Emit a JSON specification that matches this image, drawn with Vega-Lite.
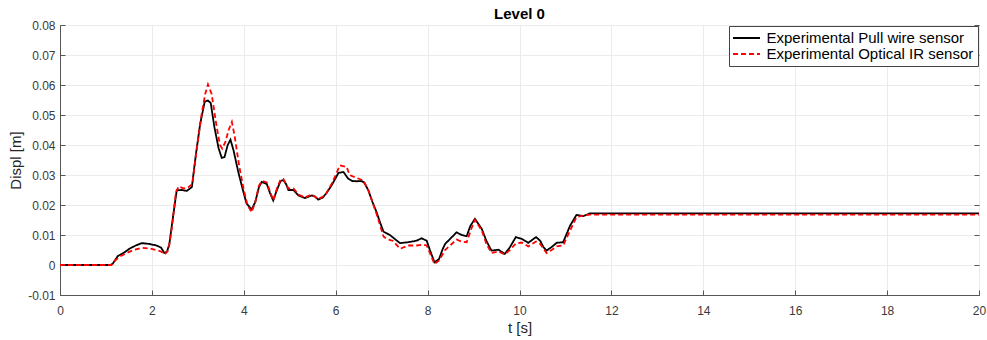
{
  "$schema": "https://vega.github.io/schema/vega-lite/v6.json",
  "autosize": "none",
  "width": 919,
  "height": 270,
  "padding": {"left": 60, "top": 25, "right": 8, "bottom": 45},
  "background": "white",
  "title": {"text": "Level 0", "fontSize": 15, "font": "Liberation Sans", "fontWeight": "bold", "color": "#000000", "baseline": "alphabetic", "offset": 5, "dy": 20, "anchor": "middle"},
  "config": {
    "view": {"stroke": "#555555", "strokeWidth": 1},
    "axis": {"labelFont": "Liberation Sans", "titleFont": "Liberation Sans", "labelColor": "#3a3a3a", "titleColor": "#262626", "titleFontWeight": "normal", "labelFontSize": 12, "titleFontSize": 15, "domainColor": "#555555", "tickColor": "#555555", "gridColor": "#ebebeb", "gridOpacity": 1}
  },
  "data": {"values": [
    {"t": 0, "d": 0, "s": "Experimental Pull wire sensor"},
    {"t": 1.1, "d": 0, "s": "Experimental Pull wire sensor"},
    {"t": 1.15, "d": 0.0005, "s": "Experimental Pull wire sensor"},
    {"t": 1.26, "d": 0.003, "s": "Experimental Pull wire sensor"},
    {"t": 1.4, "d": 0.0042, "s": "Experimental Pull wire sensor"},
    {"t": 1.52, "d": 0.0055, "s": "Experimental Pull wire sensor"},
    {"t": 1.65, "d": 0.0065, "s": "Experimental Pull wire sensor"},
    {"t": 1.78, "d": 0.0073, "s": "Experimental Pull wire sensor"},
    {"t": 1.95, "d": 0.007, "s": "Experimental Pull wire sensor"},
    {"t": 2.1, "d": 0.0065, "s": "Experimental Pull wire sensor"},
    {"t": 2.2, "d": 0.0058, "s": "Experimental Pull wire sensor"},
    {"t": 2.27, "d": 0.004, "s": "Experimental Pull wire sensor"},
    {"t": 2.33, "d": 0.0045, "s": "Experimental Pull wire sensor"},
    {"t": 2.38, "d": 0.007, "s": "Experimental Pull wire sensor"},
    {"t": 2.45, "d": 0.015, "s": "Experimental Pull wire sensor"},
    {"t": 2.54, "d": 0.0249, "s": "Experimental Pull wire sensor"},
    {"t": 2.65, "d": 0.025, "s": "Experimental Pull wire sensor"},
    {"t": 2.76, "d": 0.0247, "s": "Experimental Pull wire sensor"},
    {"t": 2.87, "d": 0.026, "s": "Experimental Pull wire sensor"},
    {"t": 2.95, "d": 0.036, "s": "Experimental Pull wire sensor"},
    {"t": 3.05, "d": 0.047, "s": "Experimental Pull wire sensor"},
    {"t": 3.15, "d": 0.0545, "s": "Experimental Pull wire sensor"},
    {"t": 3.22, "d": 0.0548, "s": "Experimental Pull wire sensor"},
    {"t": 3.28, "d": 0.054, "s": "Experimental Pull wire sensor"},
    {"t": 3.36, "d": 0.046, "s": "Experimental Pull wire sensor"},
    {"t": 3.45, "d": 0.039, "s": "Experimental Pull wire sensor"},
    {"t": 3.52, "d": 0.0357, "s": "Experimental Pull wire sensor"},
    {"t": 3.58, "d": 0.036, "s": "Experimental Pull wire sensor"},
    {"t": 3.65, "d": 0.04, "s": "Experimental Pull wire sensor"},
    {"t": 3.71, "d": 0.0418, "s": "Experimental Pull wire sensor"},
    {"t": 3.78, "d": 0.038, "s": "Experimental Pull wire sensor"},
    {"t": 3.88, "d": 0.031, "s": "Experimental Pull wire sensor"},
    {"t": 3.98, "d": 0.025, "s": "Experimental Pull wire sensor"},
    {"t": 4.06, "d": 0.0205, "s": "Experimental Pull wire sensor"},
    {"t": 4.17, "d": 0.0185, "s": "Experimental Pull wire sensor"},
    {"t": 4.25, "d": 0.021, "s": "Experimental Pull wire sensor"},
    {"t": 4.33, "d": 0.026, "s": "Experimental Pull wire sensor"},
    {"t": 4.39, "d": 0.0277, "s": "Experimental Pull wire sensor"},
    {"t": 4.5, "d": 0.027, "s": "Experimental Pull wire sensor"},
    {"t": 4.57, "d": 0.024, "s": "Experimental Pull wire sensor"},
    {"t": 4.64, "d": 0.0215, "s": "Experimental Pull wire sensor"},
    {"t": 4.72, "d": 0.025, "s": "Experimental Pull wire sensor"},
    {"t": 4.8, "d": 0.028, "s": "Experimental Pull wire sensor"},
    {"t": 4.86, "d": 0.0283, "s": "Experimental Pull wire sensor"},
    {"t": 4.92, "d": 0.027, "s": "Experimental Pull wire sensor"},
    {"t": 4.97, "d": 0.025, "s": "Experimental Pull wire sensor"},
    {"t": 5.08, "d": 0.025, "s": "Experimental Pull wire sensor"},
    {"t": 5.19, "d": 0.0232, "s": "Experimental Pull wire sensor"},
    {"t": 5.33, "d": 0.0223, "s": "Experimental Pull wire sensor"},
    {"t": 5.48, "d": 0.0232, "s": "Experimental Pull wire sensor"},
    {"t": 5.55, "d": 0.0228, "s": "Experimental Pull wire sensor"},
    {"t": 5.62, "d": 0.0218, "s": "Experimental Pull wire sensor"},
    {"t": 5.72, "d": 0.0225, "s": "Experimental Pull wire sensor"},
    {"t": 5.8, "d": 0.024, "s": "Experimental Pull wire sensor"},
    {"t": 5.91, "d": 0.0265, "s": "Experimental Pull wire sensor"},
    {"t": 6.0, "d": 0.029, "s": "Experimental Pull wire sensor"},
    {"t": 6.06, "d": 0.0307, "s": "Experimental Pull wire sensor"},
    {"t": 6.17, "d": 0.031, "s": "Experimental Pull wire sensor"},
    {"t": 6.27, "d": 0.0288, "s": "Experimental Pull wire sensor"},
    {"t": 6.36, "d": 0.028, "s": "Experimental Pull wire sensor"},
    {"t": 6.46, "d": 0.0279, "s": "Experimental Pull wire sensor"},
    {"t": 6.56, "d": 0.028, "s": "Experimental Pull wire sensor"},
    {"t": 6.62, "d": 0.0275, "s": "Experimental Pull wire sensor"},
    {"t": 6.71, "d": 0.0249, "s": "Experimental Pull wire sensor"},
    {"t": 6.8, "d": 0.021, "s": "Experimental Pull wire sensor"},
    {"t": 6.89, "d": 0.0176, "s": "Experimental Pull wire sensor"},
    {"t": 6.97, "d": 0.014, "s": "Experimental Pull wire sensor"},
    {"t": 7.04, "d": 0.0111, "s": "Experimental Pull wire sensor"},
    {"t": 7.18, "d": 0.01, "s": "Experimental Pull wire sensor"},
    {"t": 7.3, "d": 0.0085, "s": "Experimental Pull wire sensor"},
    {"t": 7.4, "d": 0.0073, "s": "Experimental Pull wire sensor"},
    {"t": 7.58, "d": 0.0076, "s": "Experimental Pull wire sensor"},
    {"t": 7.76, "d": 0.0081, "s": "Experimental Pull wire sensor"},
    {"t": 7.87, "d": 0.0089, "s": "Experimental Pull wire sensor"},
    {"t": 7.98, "d": 0.0081, "s": "Experimental Pull wire sensor"},
    {"t": 8.05, "d": 0.005, "s": "Experimental Pull wire sensor"},
    {"t": 8.15, "d": 0.0009, "s": "Experimental Pull wire sensor"},
    {"t": 8.25, "d": 0.002, "s": "Experimental Pull wire sensor"},
    {"t": 8.32, "d": 0.005, "s": "Experimental Pull wire sensor"},
    {"t": 8.38, "d": 0.007, "s": "Experimental Pull wire sensor"},
    {"t": 8.49, "d": 0.0087, "s": "Experimental Pull wire sensor"},
    {"t": 8.63, "d": 0.0109, "s": "Experimental Pull wire sensor"},
    {"t": 8.74, "d": 0.01, "s": "Experimental Pull wire sensor"},
    {"t": 8.85, "d": 0.0096, "s": "Experimental Pull wire sensor"},
    {"t": 8.93, "d": 0.013, "s": "Experimental Pull wire sensor"},
    {"t": 9.03, "d": 0.0154, "s": "Experimental Pull wire sensor"},
    {"t": 9.18, "d": 0.012, "s": "Experimental Pull wire sensor"},
    {"t": 9.28, "d": 0.008, "s": "Experimental Pull wire sensor"},
    {"t": 9.39, "d": 0.0048, "s": "Experimental Pull wire sensor"},
    {"t": 9.54, "d": 0.0051, "s": "Experimental Pull wire sensor"},
    {"t": 9.68, "d": 0.0037, "s": "Experimental Pull wire sensor"},
    {"t": 9.79, "d": 0.0059, "s": "Experimental Pull wire sensor"},
    {"t": 9.92, "d": 0.0093, "s": "Experimental Pull wire sensor"},
    {"t": 10.05, "d": 0.0087, "s": "Experimental Pull wire sensor"},
    {"t": 10.19, "d": 0.0074, "s": "Experimental Pull wire sensor"},
    {"t": 10.36, "d": 0.0093, "s": "Experimental Pull wire sensor"},
    {"t": 10.45, "d": 0.0081, "s": "Experimental Pull wire sensor"},
    {"t": 10.52, "d": 0.006, "s": "Experimental Pull wire sensor"},
    {"t": 10.59, "d": 0.0048, "s": "Experimental Pull wire sensor"},
    {"t": 10.7, "d": 0.006, "s": "Experimental Pull wire sensor"},
    {"t": 10.81, "d": 0.0074, "s": "Experimental Pull wire sensor"},
    {"t": 10.95, "d": 0.0076, "s": "Experimental Pull wire sensor"},
    {"t": 11.1, "d": 0.0131, "s": "Experimental Pull wire sensor"},
    {"t": 11.24, "d": 0.0167, "s": "Experimental Pull wire sensor"},
    {"t": 11.39, "d": 0.0163, "s": "Experimental Pull wire sensor"},
    {"t": 11.53, "d": 0.0172, "s": "Experimental Pull wire sensor"},
    {"t": 20, "d": 0.0172, "s": "Experimental Pull wire sensor"},
    {"t": 0, "d": 0, "s": "Experimental Optical IR sensor"},
    {"t": 1.12, "d": 0, "s": "Experimental Optical IR sensor"},
    {"t": 1.2, "d": 0.0015, "s": "Experimental Optical IR sensor"},
    {"t": 1.3, "d": 0.0028, "s": "Experimental Optical IR sensor"},
    {"t": 1.45, "d": 0.004, "s": "Experimental Optical IR sensor"},
    {"t": 1.6, "d": 0.005, "s": "Experimental Optical IR sensor"},
    {"t": 1.78, "d": 0.0057, "s": "Experimental Optical IR sensor"},
    {"t": 1.95, "d": 0.0055, "s": "Experimental Optical IR sensor"},
    {"t": 2.1, "d": 0.005, "s": "Experimental Optical IR sensor"},
    {"t": 2.2, "d": 0.0045, "s": "Experimental Optical IR sensor"},
    {"t": 2.28, "d": 0.0035, "s": "Experimental Optical IR sensor"},
    {"t": 2.36, "d": 0.005, "s": "Experimental Optical IR sensor"},
    {"t": 2.44, "d": 0.013, "s": "Experimental Optical IR sensor"},
    {"t": 2.52, "d": 0.024, "s": "Experimental Optical IR sensor"},
    {"t": 2.58, "d": 0.0262, "s": "Experimental Optical IR sensor"},
    {"t": 2.7, "d": 0.0255, "s": "Experimental Optical IR sensor"},
    {"t": 2.8, "d": 0.026, "s": "Experimental Optical IR sensor"},
    {"t": 2.88, "d": 0.027, "s": "Experimental Optical IR sensor"},
    {"t": 2.97, "d": 0.038, "s": "Experimental Optical IR sensor"},
    {"t": 3.08, "d": 0.05, "s": "Experimental Optical IR sensor"},
    {"t": 3.16, "d": 0.057, "s": "Experimental Optical IR sensor"},
    {"t": 3.22, "d": 0.0602, "s": "Experimental Optical IR sensor"},
    {"t": 3.3, "d": 0.057, "s": "Experimental Optical IR sensor"},
    {"t": 3.4, "d": 0.047, "s": "Experimental Optical IR sensor"},
    {"t": 3.48, "d": 0.04, "s": "Experimental Optical IR sensor"},
    {"t": 3.53, "d": 0.0388, "s": "Experimental Optical IR sensor"},
    {"t": 3.6, "d": 0.041, "s": "Experimental Optical IR sensor"},
    {"t": 3.67, "d": 0.045, "s": "Experimental Optical IR sensor"},
    {"t": 3.74, "d": 0.0477, "s": "Experimental Optical IR sensor"},
    {"t": 3.8, "d": 0.043, "s": "Experimental Optical IR sensor"},
    {"t": 3.9, "d": 0.033, "s": "Experimental Optical IR sensor"},
    {"t": 4.0, "d": 0.025, "s": "Experimental Optical IR sensor"},
    {"t": 4.08, "d": 0.02, "s": "Experimental Optical IR sensor"},
    {"t": 4.17, "d": 0.0176, "s": "Experimental Optical IR sensor"},
    {"t": 4.25, "d": 0.021, "s": "Experimental Optical IR sensor"},
    {"t": 4.33, "d": 0.0265, "s": "Experimental Optical IR sensor"},
    {"t": 4.4, "d": 0.028, "s": "Experimental Optical IR sensor"},
    {"t": 4.5, "d": 0.0275, "s": "Experimental Optical IR sensor"},
    {"t": 4.57, "d": 0.0245, "s": "Experimental Optical IR sensor"},
    {"t": 4.64, "d": 0.0215, "s": "Experimental Optical IR sensor"},
    {"t": 4.72, "d": 0.0255, "s": "Experimental Optical IR sensor"},
    {"t": 4.8, "d": 0.0285, "s": "Experimental Optical IR sensor"},
    {"t": 4.86, "d": 0.0287, "s": "Experimental Optical IR sensor"},
    {"t": 4.92, "d": 0.027, "s": "Experimental Optical IR sensor"},
    {"t": 4.97, "d": 0.0255, "s": "Experimental Optical IR sensor"},
    {"t": 5.08, "d": 0.0255, "s": "Experimental Optical IR sensor"},
    {"t": 5.19, "d": 0.0235, "s": "Experimental Optical IR sensor"},
    {"t": 5.33, "d": 0.0225, "s": "Experimental Optical IR sensor"},
    {"t": 5.48, "d": 0.0235, "s": "Experimental Optical IR sensor"},
    {"t": 5.62, "d": 0.022, "s": "Experimental Optical IR sensor"},
    {"t": 5.77, "d": 0.0232, "s": "Experimental Optical IR sensor"},
    {"t": 5.91, "d": 0.027, "s": "Experimental Optical IR sensor"},
    {"t": 6.0, "d": 0.03, "s": "Experimental Optical IR sensor"},
    {"t": 6.09, "d": 0.0332, "s": "Experimental Optical IR sensor"},
    {"t": 6.24, "d": 0.0327, "s": "Experimental Optical IR sensor"},
    {"t": 6.3, "d": 0.03, "s": "Experimental Optical IR sensor"},
    {"t": 6.46, "d": 0.029, "s": "Experimental Optical IR sensor"},
    {"t": 6.6, "d": 0.0282, "s": "Experimental Optical IR sensor"},
    {"t": 6.71, "d": 0.025, "s": "Experimental Optical IR sensor"},
    {"t": 6.8, "d": 0.021, "s": "Experimental Optical IR sensor"},
    {"t": 6.89, "d": 0.017, "s": "Experimental Optical IR sensor"},
    {"t": 7.04, "d": 0.0095, "s": "Experimental Optical IR sensor"},
    {"t": 7.11, "d": 0.0087, "s": "Experimental Optical IR sensor"},
    {"t": 7.25, "d": 0.008, "s": "Experimental Optical IR sensor"},
    {"t": 7.4, "d": 0.0054, "s": "Experimental Optical IR sensor"},
    {"t": 7.58, "d": 0.0065, "s": "Experimental Optical IR sensor"},
    {"t": 7.76, "d": 0.0065, "s": "Experimental Optical IR sensor"},
    {"t": 7.9, "d": 0.0068, "s": "Experimental Optical IR sensor"},
    {"t": 7.98, "d": 0.0065, "s": "Experimental Optical IR sensor"},
    {"t": 8.05, "d": 0.004, "s": "Experimental Optical IR sensor"},
    {"t": 8.15, "d": 0.0003, "s": "Experimental Optical IR sensor"},
    {"t": 8.25, "d": 0.0015, "s": "Experimental Optical IR sensor"},
    {"t": 8.38, "d": 0.005, "s": "Experimental Optical IR sensor"},
    {"t": 8.49, "d": 0.0065, "s": "Experimental Optical IR sensor"},
    {"t": 8.63, "d": 0.0085, "s": "Experimental Optical IR sensor"},
    {"t": 8.74, "d": 0.0078, "s": "Experimental Optical IR sensor"},
    {"t": 8.85, "d": 0.0076, "s": "Experimental Optical IR sensor"},
    {"t": 8.95, "d": 0.012, "s": "Experimental Optical IR sensor"},
    {"t": 9.03, "d": 0.015, "s": "Experimental Optical IR sensor"},
    {"t": 9.18, "d": 0.0115, "s": "Experimental Optical IR sensor"},
    {"t": 9.28, "d": 0.007, "s": "Experimental Optical IR sensor"},
    {"t": 9.39, "d": 0.004, "s": "Experimental Optical IR sensor"},
    {"t": 9.54, "d": 0.0045, "s": "Experimental Optical IR sensor"},
    {"t": 9.68, "d": 0.0035, "s": "Experimental Optical IR sensor"},
    {"t": 9.79, "d": 0.005, "s": "Experimental Optical IR sensor"},
    {"t": 9.92, "d": 0.0072, "s": "Experimental Optical IR sensor"},
    {"t": 10.05, "d": 0.0075, "s": "Experimental Optical IR sensor"},
    {"t": 10.19, "d": 0.0062, "s": "Experimental Optical IR sensor"},
    {"t": 10.36, "d": 0.0078, "s": "Experimental Optical IR sensor"},
    {"t": 10.45, "d": 0.007, "s": "Experimental Optical IR sensor"},
    {"t": 10.59, "d": 0.004, "s": "Experimental Optical IR sensor"},
    {"t": 10.7, "d": 0.005, "s": "Experimental Optical IR sensor"},
    {"t": 10.81, "d": 0.0062, "s": "Experimental Optical IR sensor"},
    {"t": 10.95, "d": 0.0065, "s": "Experimental Optical IR sensor"},
    {"t": 11.1, "d": 0.0115, "s": "Experimental Optical IR sensor"},
    {"t": 11.24, "d": 0.016, "s": "Experimental Optical IR sensor"},
    {"t": 11.39, "d": 0.0165, "s": "Experimental Optical IR sensor"},
    {"t": 11.53, "d": 0.0168, "s": "Experimental Optical IR sensor"},
    {"t": 20, "d": 0.0168, "s": "Experimental Optical IR sensor"}
  ]},
  "layer": [
    {
      "mark": {"type": "line", "strokeWidth": 1.8, "clip": true},
      "encoding": {
        "x": {"field": "t", "type": "quantitative", "scale": {"domain": [0, 20], "nice": false, "zero": false},
              "axis": {"title": "t [s]", "values": [0, 2, 4, 6, 8, 10, 12, 14, 16, 18, 20], "tickSize": -5, "labelPadding": 15, "titlePadding": 4, "labelFlush": false, "grid": true}},
        "y": {"field": "d", "type": "quantitative", "scale": {"domain": [-0.01, 0.08], "nice": false, "zero": false},
              "axis": {"title": "Displ [m]", "values": [-0.01, 0, 0.01, 0.02, 0.03, 0.04, 0.05, 0.06, 0.07, 0.08], "labelExpr": "datum.value == 0 ? '0' : replace(format(datum.value, '.2f'), '\u2212', '-')", "tickSize": -5, "labelPadding": 10, "titlePadding": 4, "labelFlush": false, "grid": true}},
        "color": {"field": "s", "type": "nominal", "sort": null,
                  "scale": {"domain": ["Experimental Pull wire sensor", "Experimental Optical IR sensor"], "range": ["#000000", "#ff0000"]},
                  "legend": {"title": null, "orient": "top-right", "offset": 1, "labelFontSize": 15, "labelFont": "Liberation Sans", "labelColor": "#000000", "symbolType": "M-2,0H2", "symbolSize": 182, "symbolStrokeWidth": 2, "symbolOffset": 5.5, "labelOffset": 12, "strokeColor": "#444444", "fillColor": "#ffffff", "padding": 4, "rowPadding": 0, "labelLimit": 400}},
        "strokeDash": {"field": "s", "type": "nominal", "sort": null,
                  "scale": {"domain": ["Experimental Pull wire sensor", "Experimental Optical IR sensor"], "range": [[1, 0], [5, 3]]},
                  "legend": {"title": null}}
      }
    },
    {
      "mark": {"type": "point", "opacity": 0},
      "encoding": {
        "x": {"field": "t", "type": "quantitative"},
        "y": {"field": "d", "type": "quantitative", "axis": {"orient": "right", "labels": false, "title": null, "domain": false, "grid": false, "values": [-0.01, 0, 0.01, 0.02, 0.03, 0.04, 0.05, 0.06, 0.07, 0.08], "tickSize": -5, "minExtent": 0, "maxExtent": 0}}
      }
    }
  ],
  "resolve": {"axis": {"y": "independent"}}
}
